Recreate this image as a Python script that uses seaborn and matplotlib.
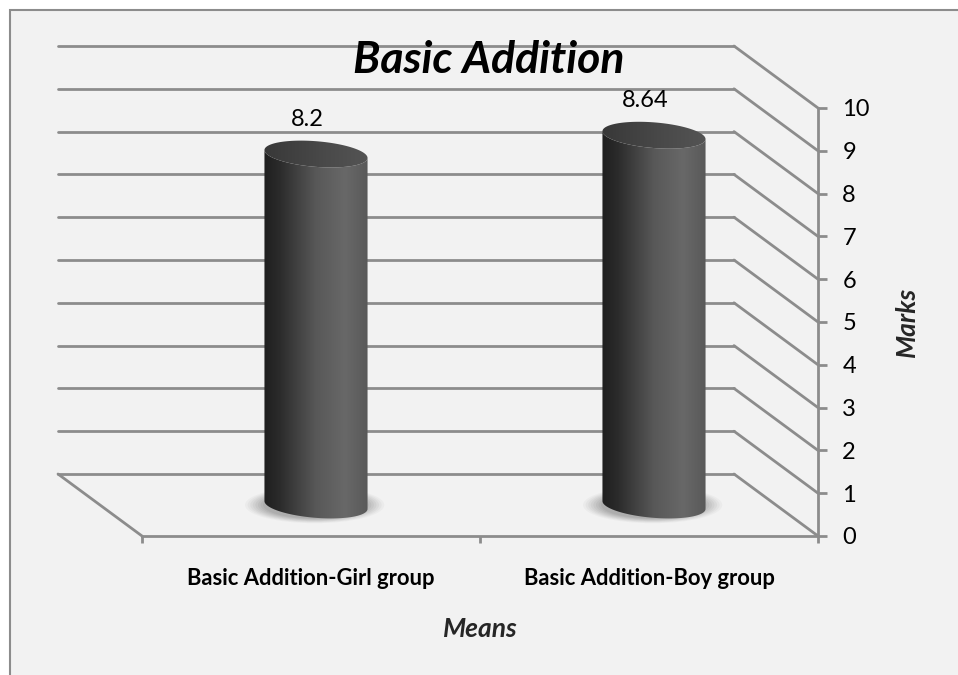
import numpy as np
import matplotlib
matplotlib.use("Agg")
import matplotlib.pyplot as plt
import seaborn as sns
from matplotlib.patches import Rectangle, Polygon, Ellipse, ConnectionPatch
from matplotlib.colors import LinearSegmentedColormap

# --- DATA ---
categories = ["Basic Addition-Girl group", "Basic Addition-Boy group"]
means = [8.2, 8.64]
ticks = list(range(0, 11))
title = "Basic Addition"
xlabel = "Means"
ylabel = "Marks"
# ------------

sns.set_theme(style="white")
plt.rcParams['font.family'] = ['Lato', 'DejaVu Sans']

W, H = 958, 675
fig = plt.figure(figsize=(W / 100, H / 100), dpi=100)
fig.patch.set_facecolor("white")

GRID = "#8c8c8c"
LW = 2.0

# outer chart frame
fig.add_artist(Rectangle((10 / W, -0.02), 1.0, (H - 10) / H + 0.02, transform=fig.transFigure,
                         facecolor="#f2f2f2", edgecolor=GRID, lw=1.5, zorder=-5))


def px_axes(left, y_lo, y_hi, width=676):
    # axes placed in pixel units (y measured from top)
    return fig.add_axes([left / W, (H - y_lo) / H, width / W, (y_lo - y_hi) / H])


UNIT = 42.8
ax_back = px_axes(58, 474, 46)              # back wall
ax_main = px_axes(147, 505 + UNIT, 77)      # plane where the cylinders stand (ylim -1..10)
ax_front = px_axes(142, 536, 108)           # front axis plane

for ax in (ax_back, ax_main, ax_front):
    ax.set_facecolor("none")
    ax.set_xlim(-0.5, 1.5)
    ax.set_ylim(0, 10)
    for s in ax.spines.values():
        s.set_visible(False)
ax_back.set_zorder(0)
ax_main.set_zorder(1)
ax_front.set_zorder(2)

# back wall gridlines
ax_back.set_xticks([])
ax_back.set_yticks(ticks)
ax_back.tick_params(left=False, labelleft=False)
ax_back.yaxis.grid(True, color=GRID, lw=LW)
ax_back.set_axisbelow(True)
for gl in ax_back.get_ygridlines():
    gl.set_clip_on(False)

# side wall diagonals + floor edge
for v in ticks:
    fig.add_artist(ConnectionPatch(xyA=(1.5, v), coordsA=ax_back.transData,
                                   xyB=(1.5, v), coordsB=ax_front.transData,
                                   color=GRID, lw=LW, zorder=1))
fig.add_artist(ConnectionPatch(xyA=(-0.5, 0), coordsA=ax_back.transData,
                               xyB=(-0.5, 0), coordsB=ax_front.transData,
                               color=GRID, lw=LW, zorder=1))

# front axes: value axis on the right, category axis below
ax_front.spines["right"].set_visible(True)
ax_front.spines["bottom"].set_visible(True)
for s in ("right", "bottom"):
    ax_front.spines[s].set_color(GRID)
    ax_front.spines[s].set_linewidth(LW)
ax_front.yaxis.tick_right()
ax_front.set_yticks(ticks)
ax_front.tick_params(axis="y", which="major", right=True, left=False, direction="out",
                     length=6.5, width=LW, color=GRID, pad=11, labelsize=17,
                     labelcolor="black")
ax_front.set_xticks([-0.5, 0.5, 1.5])
ax_front.set_xticklabels([])
ax_front.set_xticks([0, 1], minor=True)
ax_front.set_xticklabels(categories, minor=True, fontweight="bold", fontsize=15.8)
ax_front.tick_params(axis="x", which="major", bottom=True, direction="out",
                     length=5, width=LW, color=GRID)
ax_front.tick_params(axis="x", which="minor", bottom=True, length=0, pad=23,
                     labelcolor="black")
ax_front.set_xlabel(xlabel, fontsize=19, fontweight="bold", fontstyle="italic", labelpad=20)
ax_front.yaxis.set_label_position("right")
ax_front.set_ylabel(ylabel, fontsize=19, fontweight="bold", fontstyle="italic",
                    labelpad=18, rotation=90)

# bars through seaborn, then restyled as cylinders
sns.barplot(x=categories, y=means, ax=ax_main, width=0.305, color="#505050")
ax_main.set_xticks([])
ax_main.set_yticks([])
ax_main.set_xlabel("")
ax_main.set_ylabel("")

body_cmap = LinearSegmentedColormap.from_list(
    "cyl", [(0, "#1f1f1f"), (0.15, "#2b2b2b"), (0.5, "#585858"), (0.78, "#686868"), (1, "#595959")])
top_cmap = LinearSegmentedColormap.from_list("cyltop", [(0, "#383838"), (0.6, "#4a4a4a"), (1, "#545454")])
B = 0.30     # ellipse semi-height (data units)
TILT = -0.6  # slight perspective tilt of the ellipses


def ellipse_pts(cx, cy, a, t):
    x = cx + a * np.cos(t)
    return x, cy + B * np.sin(t) + TILT * (x - cx)


grad = np.linspace(0, 1, 256).reshape(1, -1)
for bar in list(ax_main.patches):
    x0, w, v = bar.get_x(), bar.get_width(), bar.get_height()
    cx, a = x0 + w / 2, w / 2
    bar.set_visible(False)

    # soft floor shadow
    for k, al in zip(np.linspace(1.35, 1.0, 8), np.linspace(0.05, 0.12, 8)):
        ax_main.add_patch(Ellipse((cx - 0.004, 0.0), 2 * a * k, 2 * B * k * 1.05,
                                  facecolor="#707070", edgecolor="none", alpha=al, zorder=2))

    t_low = np.linspace(np.pi, 2 * np.pi, 60)
    bx, by = ellipse_pts(cx, 0, a, t_low)
    tx, ty = ellipse_pts(cx, v, a, t_low[::-1])
    body = Polygon(np.column_stack([np.r_[bx, tx], np.r_[by, ty]]), closed=True,
                   facecolor="none", edgecolor="none", zorder=3)
    ax_main.add_patch(body)
    im = ax_main.imshow(grad, cmap=body_cmap, aspect="auto", zorder=3,
                        extent=[cx - a, cx + a, -B * 2, v + B * 2], interpolation="bilinear")
    im.set_clip_path(body)

    t_all = np.linspace(0, 2 * np.pi, 120)
    ex, ey = ellipse_pts(cx, v, a, t_all)
    top = Polygon(np.column_stack([ex, ey]), closed=True, facecolor="none",
                  edgecolor="none", zorder=4)
    ax_main.add_patch(top)
    im2 = ax_main.imshow(grad, cmap=top_cmap, aspect="auto", zorder=4,
                         extent=[cx - a, cx + a, v - 2 * B, v + 2 * B], interpolation="bilinear")
    im2.set_clip_path(top)

    ax_main.annotate(f"{v:g}", xy=(cx, v), xytext=(-6, 25), textcoords="offset points",
                     ha="center", va="center", fontsize=17, color="black", zorder=6)

ax_main.set_xlim(-0.5, 1.5)
ax_main.set_ylim(-1, 10)

fig.text(489 / W, 1 - 60 / H, title, ha="center", va="center", fontsize=32,
         fontweight="bold", fontstyle="italic", color="black", zorder=10)

fig.savefig("out.png", dpi=100, facecolor=fig.get_facecolor())
